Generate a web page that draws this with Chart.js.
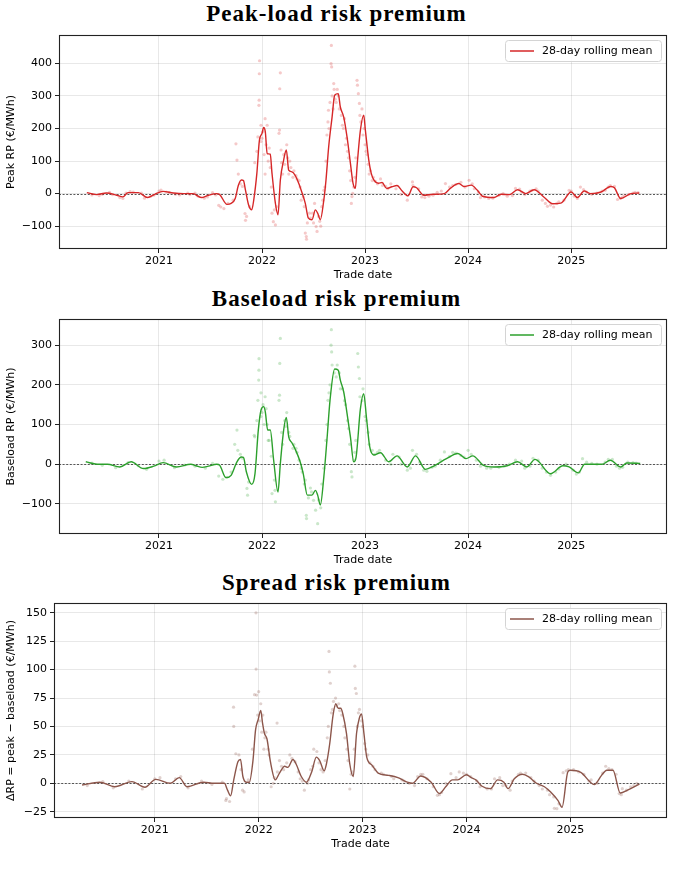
<!DOCTYPE html>
<html><head><meta charset="utf-8">
<script src="https://cdn.jsdelivr.net/npm/chart.js@4.4.0/dist/chart.umd.min.js"></script>
<style>
body{margin:0;background:#fff;width:673px;height:882px;position:relative;overflow:hidden}
.ttl{position:absolute;left:0;width:673px;text-align:center;font:bold 23px "Liberation Serif",serif;line-height:22px;letter-spacing:1px;color:#000}
canvas{position:absolute;left:0}
</style></head><body>
<div class="ttl" style="top:3px">Peak-load risk premium</div>
<div class="ttl" style="top:288px">Baseload risk premium</div>
<div class="ttl" style="top:572px">Spread risk premium</div>
<canvas id="c1" width="673" height="261" style="top:30px"></canvas>
<canvas id="c2" width="673" height="262" style="top:314px"></canvas>
<canvas id="c3" width="673" height="262" style="top:598px"></canvas>
<script>
// tick labels
const yearTicks = [2021, 2022, 2023, 2024, 2025]
const peakTicks = [-100, 0, 100, 200, 300, 400]
const baseTicks = [-100, 0, 100, 200, 300]
const spreadTicks = [-25, 0, 25, 50, 75, 100, 125, 150]

// 28-day rolling means (decimal year, €/MWh)
const peakX = [2020.30,2020.395,2020.49,2020.59,2020.65,2020.70,2020.80,2020.89,2020.96,2021.04,2021.14,2021.24,2021.33,2021.41,2021.48,2021.56,2021.59,2021.66,2021.70,2021.74,2021.77,2021.80,2021.82,2021.84,2021.87,2021.90,2021.92,2021.95,2021.975,2022.0,2022.016,2022.032,2022.05,2022.08,2022.097,2022.13,2022.155,2022.178,2022.21,2022.236,2022.259,2022.29,2022.32,2022.356,2022.39,2022.42,2022.45,2022.485,2022.518,2022.54,2022.566,2022.60,2022.621,2022.647,2022.68,2022.705,2022.74,2022.76,2022.793,2022.825,2022.858,2022.883,2022.906,2022.922,2022.955,2022.987,2023.003,2023.036,2023.06,2023.085,2023.13,2023.165,2023.21,2023.26,2023.31,2023.36,2023.417,2023.466,2023.50,2023.57,2023.66,2023.77,2023.83,2023.91,2023.96,2024.03,2024.09,2024.14,2024.25,2024.32,2024.40,2024.48,2024.56,2024.64,2024.74,2024.82,2024.90,2025.0,2025.06,2025.126,2025.19,2025.29,2025.385,2025.42,2025.48,2025.58,2025.66]
const peakY = [3,-3,2,-5,-10,3,3,-12,-2,7,2,0,0,-12,-5,0,-3,-33,-30,-15,25,42,40,10,-35,-50,-19,62,164,185,203,190,123,121,62,-30,-65,42,103,134,72,67,57,32,1,-30,-75,-80,-50,-60,-80,-19,42,144,235,302,307,266,235,174,93,32,16,83,195,241,195,103,62,42,32,34,16,21,25,8,-7,21,18,-5,-2,0,17,31,22,26,10,-8,-12,-2,-3,12,0,12,-12,-31,-29,5,-12,8,0,5,22,18,-15,0,2]

const baseX = [2020.29,2020.40,2020.50,2020.62,2020.73,2020.85,2020.95,2021.04,2021.17,2021.31,2021.36,2021.42,2021.48,2021.56,2021.59,2021.65,2021.70,2021.757,2021.80,2021.82,2021.848,2021.90,2021.932,2021.964,2021.99,2022.016,2022.032,2022.055,2022.08,2022.113,2022.155,2022.178,2022.21,2022.236,2022.259,2022.29,2022.32,2022.37,2022.40,2022.44,2022.485,2022.518,2022.54,2022.566,2022.60,2022.63,2022.66,2022.705,2022.74,2022.76,2022.793,2022.825,2022.858,2022.89,2022.913,2022.955,2022.987,2023.013,2023.045,2023.085,2023.15,2023.23,2023.31,2023.41,2023.49,2023.586,2023.67,2023.79,2023.90,2023.98,2024.045,2024.15,2024.25,2024.38,2024.48,2024.57,2024.65,2024.80,2024.92,2024.98,2025.07,2025.13,2025.30,2025.38,2025.48,2025.54,2025.67]
const baseY = [6,0,0,-7,6,-11,-5,4,-7,0,-4,-8,-5,0,-3,-34,-28,6,18,17,-19,-51,-24,86,136,145,132,86,86,10,-70,2,86,118,69,54,39,6,-24,-78,-78,-66,-78,-103,-32,61,161,240,237,212,182,128,69,6,18,140,178,119,44,23,29,6,21,-7,21,-13,-4,14,27,14,21,-3,-7,-4,6,-7,12,-24,-4,-7,-22,0,0,10,-7,3,2]

const spreadX = [2020.30,2020.47,2020.615,2020.78,2020.905,2021.01,2021.15,2021.235,2021.31,2021.47,2021.57,2021.67,2021.70,2021.73,2021.76,2021.80,2021.825,2021.848,2021.88,2021.91,2021.945,2021.97,2021.995,2022.02,2022.037,2022.055,2022.08,2022.113,2022.16,2022.20,2022.25,2022.28,2022.33,2022.36,2022.41,2022.46,2022.51,2022.555,2022.587,2022.63,2022.652,2022.684,2022.716,2022.742,2022.765,2022.79,2022.81,2022.845,2022.877,2022.91,2022.942,2022.968,2022.99,2023.013,2023.04,2023.09,2023.15,2023.25,2023.34,2023.43,2023.48,2023.56,2023.66,2023.74,2023.80,2023.865,2023.915,2024.0,2024.05,2024.09,2024.15,2024.23,2024.30,2024.36,2024.40,2024.46,2024.54,2024.60,2024.67,2024.75,2024.81,2024.88,2024.92,2024.975,2025.0,2025.10,2025.23,2025.30,2025.35,2025.41,2025.48,2025.55,2025.665]
const spreadY = [-1.5,1,-3,1.5,-3.5,3.5,0,5,-3,1,0,0,-6,-11,3,19,21,6,1,1,20,47,56,64,53,44,39,19,3,9,15,14,21,17,6,1,10,23,20,11,17,35,60,70,66,66,61,44,17,6,44,57,61,44,23,16,9,7,5,1,0,6.5,1,-9,-3,3,3,7.6,4.7,3,-2.6,-4.7,3,1,-4.7,4,8,5.6,0.3,-3,-7.6,-15,-21,10,11.5,9.7,-1,7,11.5,11.5,-8.5,-6,-0.6]

// daily values (subset)
const peakDotX = [2020.35,2020.42,2020.45,2020.52,2020.55,2020.62,2020.65,2020.68,2020.72,2020.75,2020.83,2020.86,2020.92,2020.95,2021.0,2021.02,2021.07,2021.1,2021.16,2021.2,2021.28,2021.3,2021.35,2021.38,2021.44,2021.47,2021.52,2021.55,2021.58,2021.6,2021.63,2021.67,2021.72,2021.747,2021.757,2021.77,2021.79,2021.81,2021.835,2021.84,2021.85,2021.88,2021.93,2021.95,2021.96,2021.97,2021.972,2021.974,2021.976,2021.99,2021.99,2022.0,2022.01,2022.02,2022.03,2022.03,2022.04,2022.05,2022.06,2022.07,2022.08,2022.09,2022.097,2022.11,2022.12,2022.13,2022.14,2022.165,2022.17,2022.172,2022.178,2022.185,2022.19,2022.2,2022.21,2022.22,2022.24,2022.25,2022.26,2022.27,2022.28,2022.30,2022.31,2022.33,2022.34,2022.36,2022.37,2022.38,2022.40,2022.41,2022.42,2022.43,2022.432,2022.44,2022.46,2022.47,2022.49,2022.50,2022.51,2022.525,2022.534,2022.55,2022.56,2022.57,2022.58,2022.59,2022.60,2022.61,2022.62,2022.63,2022.64,2022.645,2022.65,2022.66,2022.67,2022.673,2022.676,2022.68,2022.69,2022.696,2022.70,2022.71,2022.72,2022.73,2022.74,2022.75,2022.77,2022.78,2022.79,2022.80,2022.81,2022.82,2022.83,2022.84,2022.85,2022.86,2022.867,2022.873,2022.88,2022.89,2022.90,2022.91,2022.922,2022.926,2022.935,2022.945,2022.95,2022.96,2022.97,2022.98,2022.99,2023.0,2023.01,2023.02,2023.03,2023.04,2023.05,2023.07,2023.08,2023.1,2023.12,2023.15,2023.17,2023.2,2023.22,2023.25,2023.3,2023.35,2023.41,2023.46,2023.465,2023.52,2023.55,2023.58,2023.62,2023.66,2023.7,2023.74,2023.78,2023.82,2023.85,2023.88,2023.93,2023.97,2024.01,2024.04,2024.06,2024.1,2024.12,2024.16,2024.2,2024.24,2024.3,2024.34,2024.38,2024.43,2024.46,2024.5,2024.52,2024.55,2024.6,2024.62,2024.66,2024.68,2024.72,2024.75,2024.77,2024.8,2024.83,2024.86,2024.88,2024.93,2024.98,2025.0,2025.03,2025.06,2025.09,2025.12,2025.15,2025.2,2025.25,2025.3,2025.33,2025.36,2025.38,2025.42,2025.45,2025.48,2025.5,2025.52,2025.56,2025.6,2025.62,2025.65]
const peakDotY = [-4,-6,-2,4,-3,-12,-15,2,6,5,2,-14,-8,-5,8,11,5,3,-2,-4,2,-3,2,-8,-14,-10,3,-4,-36,-41,-46,-30,-20,153,103,60,30,22,-61,-82,-70,-40,95,130,174,271,287,368,408,160,210,170,190,120,230,60,150,210,100,140,80,20,-60,-86,-50,-96,-40,185,195,322,371,134,95,60,120,90,150,110,60,100,80,50,70,55,45,40,20,-20,-10,-40,-121,-132,-140,-90,-60,-75,-60,-90,-30,-101,-116,-70,-85,-100,-40,-20,10,20,100,180,220,256,200,280,399,455,389,300,260,338,320,290,280,320,300,260,240,210,200,230,150,170,130,110,70,40,-30,-9,1,20,50,110,348,333,307,277,240,220,260,180,200,150,130,120,90,60,70,40,50,38,30,45,25,22,15,30,15,-2,-20,36,25,15,-10,-12,-8,-5,4,8,31,20,25,28,35,20,41,30,15,5,-12,-10,-15,-14,-5,0,-8,-6,16,14,5,-3,8,10,15,8,-20,-30,-39,-35,-41,-30,-25,-20,10,8,-8,-15,20,12,5,-2,2,8,10,20,25,22,-18,-15,-10,-5,-2,2,4,3]

const baseDotX = [2020.35,2020.45,2020.58,2020.7,2020.8,2020.88,2021.0,2021.05,2021.15,2021.25,2021.35,2021.45,2021.52,2021.58,2021.62,2021.66,2021.7,2021.735,2021.757,2021.765,2021.79,2021.81,2021.854,2021.86,2021.87,2021.925,2021.93,2021.95,2021.96,2021.968,2021.97,2021.971,2021.99,2021.99,2022.0,2022.01,2022.02,2022.03,2022.04,2022.05,2022.06,2022.07,2022.09,2022.097,2022.12,2022.126,2022.13,2022.165,2022.17,2022.172,2022.178,2022.19,2022.2,2022.22,2022.23,2022.24,2022.26,2022.27,2022.3,2022.31,2022.33,2022.34,2022.36,2022.38,2022.39,2022.41,2022.42,2022.43,2022.432,2022.45,2022.47,2022.48,2022.50,2022.52,2022.54,2022.55,2022.57,2022.58,2022.6,2022.62,2022.63,2022.64,2022.65,2022.66,2022.67,2022.673,2022.676,2022.68,2022.7,2022.72,2022.73,2022.75,2022.76,2022.78,2022.8,2022.81,2022.83,2022.84,2022.85,2022.867,2022.873,2022.89,2022.9,2022.91,2022.929,2022.935,2022.945,2022.95,2022.97,2022.98,2023.0,2023.01,2023.03,2023.04,2023.07,2023.09,2023.12,2023.14,2023.2,2023.25,2023.27,2023.33,2023.35,2023.41,2023.44,2023.46,2023.5,2023.53,2023.57,2023.6,2023.65,2023.68,2023.73,2023.77,2023.82,2023.85,2023.88,2023.93,2023.96,2024.0,2024.03,2024.08,2024.12,2024.18,2024.22,2024.3,2024.35,2024.4,2024.46,2024.52,2024.55,2024.6,2024.63,2024.68,2024.72,2024.76,2024.80,2024.85,2024.88,2024.95,2025.02,2025.05,2025.08,2025.11,2025.15,2025.2,2025.25,2025.33,2025.36,2025.4,2025.44,2025.47,2025.5,2025.55,2025.6,2025.63]
const baseDotY = [3,-3,-9,4,-4,-13,8,10,-9,-2,-5,-10,2,-30,-38,-33,-20,50,86,35,25,15,-61,-78,-45,73,69,110,161,212,237,266,120,180,130,150,100,170,140,100,60,60,20,-74,-40,-66,-95,161,174,254,317,80,50,110,95,130,80,70,40,50,40,30,10,-10,-20,-50,-40,-129,-137,-85,-60,-70,-91,-116,-150,-90,-110,-50,-10,60,100,161,180,200,300,339,283,250,230,220,250,230,190,190,160,150,110,90,50,-19,-32,10,30,60,279,245,216,170,160,190,120,110,80,50,35,25,30,35,10,0,25,18,0,-15,-10,35,25,5,-15,-18,-8,-5,10,31,20,30,28,22,18,35,25,10,-5,-10,-10,-8,-5,0,10,8,-10,-5,15,10,-10,-20,-28,-20,-12,0,-15,-25,-20,14,5,2,0,5,12,12,-5,-10,-8,5,4,3]

const spreadDotX = [2020.35,2020.5,2020.6,2020.75,2020.88,2021.0,2021.05,2021.2,2021.25,2021.32,2021.45,2021.55,2021.65,2021.684,2021.69,2021.72,2021.758,2021.76,2021.78,2021.81,2021.83,2021.845,2021.86,2021.9,2021.94,2021.96,2021.974,2021.975,2021.98,2021.99,2022.0,2022.01,2022.02,2022.03,2022.04,2022.05,2022.06,2022.07,2022.09,2022.1,2022.12,2022.14,2022.15,2022.177,2022.18,2022.2,2022.22,2022.24,2022.27,2022.3,2022.32,2022.35,2022.38,2022.4,2022.42,2022.44,2022.47,2022.48,2022.5,2022.52,2022.53,2022.56,2022.58,2022.6,2022.62,2022.64,2022.66,2022.67,2022.677,2022.68,2022.69,2022.7,2022.71,2022.72,2022.74,2022.75,2022.77,2022.78,2022.8,2022.82,2022.83,2022.85,2022.86,2022.877,2022.89,2022.9,2022.92,2022.926,2022.93,2022.94,2022.95,2022.96,2022.97,2022.99,2023.0,2023.02,2023.03,2023.05,2023.07,2023.1,2023.12,2023.18,2023.2,2023.28,2023.3,2023.38,2023.4,2023.45,2023.5,2023.53,2023.56,2023.58,2023.62,2023.68,2023.72,2023.74,2023.76,2023.8,2023.85,2023.9,2023.93,2023.97,2024.0,2024.04,2024.1,2024.13,2024.2,2024.24,2024.27,2024.32,2024.35,2024.38,2024.42,2024.44,2024.5,2024.52,2024.57,2024.62,2024.65,2024.7,2024.73,2024.78,2024.8,2024.84,2024.846,2024.87,2024.89,2024.93,2024.96,2024.98,2025.03,2025.08,2025.13,2025.18,2025.2,2025.26,2025.31,2025.34,2025.37,2025.4,2025.44,2025.47,2025.49,2025.5,2025.54,2025.58,2025.61,2025.64]
const spreadDotY = [-2,1.5,-4,2,-5,4,5,4,6,-4,2,-1,1,-15,-13.5,-16,67,50,26,25,12,-6,-7.6,3,30,78,150,100.5,77.6,60,80.6,55,70,45,60,30,40,45,30,25,-3,0,5,53,10,20,15,12,18,25,22,19,10,4,2,-6,0,3,12,15,30,28,18,12,10,20,40,50,116,98,88,62,65,72,75,68,70,64,60,50,40,30,20,-5,8,10,30,103,83.5,79,50,62,65,55,50,35,30,25,18,15,12,9,8,6,4,3,2,0,-2,6,8,8,4,-3,-10.6,-10,-8,0,8.5,5,10,9,8,6,2,-3,-5,-5,4,5,-2,-2,-6,2,8,9,9,5,2,-2,-5,-6,-10,-12,-22,-22.3,-18,9.4,11,12,12,10,8,2,3,0,9,15,13,12,8,-9,-10,-4.7,-6,-3,-2,0]

function pts(xs, ys) {
  return xs.map((x, i) => ({x: x, y: ys[i]}))
}

const minus = v => String(v).replace('-', '\u2212')

const frame = {
  id: 'frame',
  beforeDatasetsDraw(chart) {
    const {ctx, chartArea: a, scales} = chart
    const y0 = Math.round(scales.y.getPixelForValue(0)) + 0.5
    ctx.save()
    ctx.strokeStyle = '#444'
    ctx.lineWidth = 0.9
    ctx.setLineDash([2, 1.6])
    ctx.beginPath()
    ctx.moveTo(a.left, y0)
    ctx.lineTo(a.right, y0)
    ctx.stroke()
    ctx.restore()
  },
  afterDraw(chart) {
    const {ctx, chartArea: a} = chart
    ctx.save()
    ctx.strokeStyle = '#222'
    ctx.lineWidth = 1.1
    ctx.strokeRect(a.left + 0.5, a.top + 0.5, a.right - a.left - 1, a.bottom - a.top - 1)
    // legend
    const w = 156, h = 21
    const lx = a.right - 6 - w, ly = a.top + 5
    ctx.beginPath()
    ctx.roundRect(lx + 0.5, ly + 0.5, w, h, 3)
    ctx.fillStyle = 'rgba(255,255,255,0.85)'
    ctx.fill()
    ctx.strokeStyle = '#d4d4d4'
    ctx.lineWidth = 1
    ctx.stroke()
    ctx.strokeStyle = chart.data.datasets[0].borderColor
    ctx.lineWidth = 1.5
    ctx.beginPath()
    ctx.moveTo(lx + 5, ly + h / 2 + 0.5)
    ctx.lineTo(lx + 29, ly + h / 2 + 0.5)
    ctx.stroke()
    ctx.fillStyle = '#000'
    ctx.font = '11px "DejaVu Sans"'
    ctx.textBaseline = 'middle'
    ctx.fillText('28-day rolling mean', lx + 37, ly + h / 2 + 1)
    ctx.restore()
  }
}

function makeChart(id, lineData, dotData, color, dotColor, yMin, yMax, yTicks, yTitle, leftW) {
  new Chart(id, {
    type: 'scatter',
    data: {
      datasets: [{
        data: lineData,
        showLine: true,
        borderColor: color,
        borderWidth: 1.4,
        pointRadius: 0,
        cubicInterpolationMode: 'monotone',
        order: 0
      }, {
        data: dotData,
        pointRadius: 1.6,
        pointBorderWidth: 0,
        backgroundColor: dotColor,
        order: 1
      }]
    },
    plugins: [frame],
    options: {
      responsive: false,
      animation: false,
      events: [],
      layout: {padding: {top: 5, right: 6, left: 0, bottom: 0}},
      plugins: {legend: {display: false}, tooltip: {enabled: false}},
      scales: {
        x: {
          type: 'linear', min: 2020.03, max: 2025.93,
          afterBuildTicks: s => { s.ticks = yearTicks.map(v => ({value: v})) },
          afterFit: s => { s.height = 42; s.paddingLeft = 0; s.paddingRight = 0 },
          border: {display: false},
          grid: {color: 'rgba(0,0,0,0.09)', tickColor: '#222', tickLength: 4},
          ticks: {color: '#000', font: {family: 'DejaVu Sans', size: 11}, padding: 2, maxRotation: 0, callback: v => String(v)},
          title: {display: true, text: 'Trade date', color: '#000', font: {family: 'DejaVu Sans', size: 11}, padding: {top: 0, bottom: 9}}
        },
        y: {
          min: yMin, max: yMax,
          afterBuildTicks: s => { s.ticks = yTicks.map(v => ({value: v})) },
          afterFit: s => { s.width = leftW; s.paddingTop = 0; s.paddingBottom = 0 },
          border: {display: false},
          grid: {color: 'rgba(0,0,0,0.09)', tickColor: '#222', tickLength: 4},
          ticks: {color: '#000', font: {family: 'DejaVu Sans', size: 11}, padding: 3, callback: v => minus(v)},
          title: {display: true, text: yTitle, color: '#000', font: {family: 'DejaVu Sans', size: 11}, padding: {top: 5, bottom: 0}}
        }
      }
    }
  })
}

makeChart('c1', pts(peakX, peakY), pts(peakDotX, peakDotY), '#d62728', 'rgba(214,39,40,0.25)',
  -170, 487, peakTicks, 'Peak RP (€/MWh)', 59)
makeChart('c2', pts(baseX, baseY), pts(baseDotX, baseDotY), '#2ca02c', 'rgba(44,160,44,0.25)',
  -176, 366, baseTicks, 'Baseload RP (€/MWh)', 59)
makeChart('c3', pts(spreadX, spreadY), pts(spreadDotX, spreadDotY), '#8c564b', 'rgba(140,86,75,0.27)',
  -30.5, 158.6, spreadTicks, 'ΔRP = peak − baseload (€/MWh)', 54)
</script>
</body></html>
